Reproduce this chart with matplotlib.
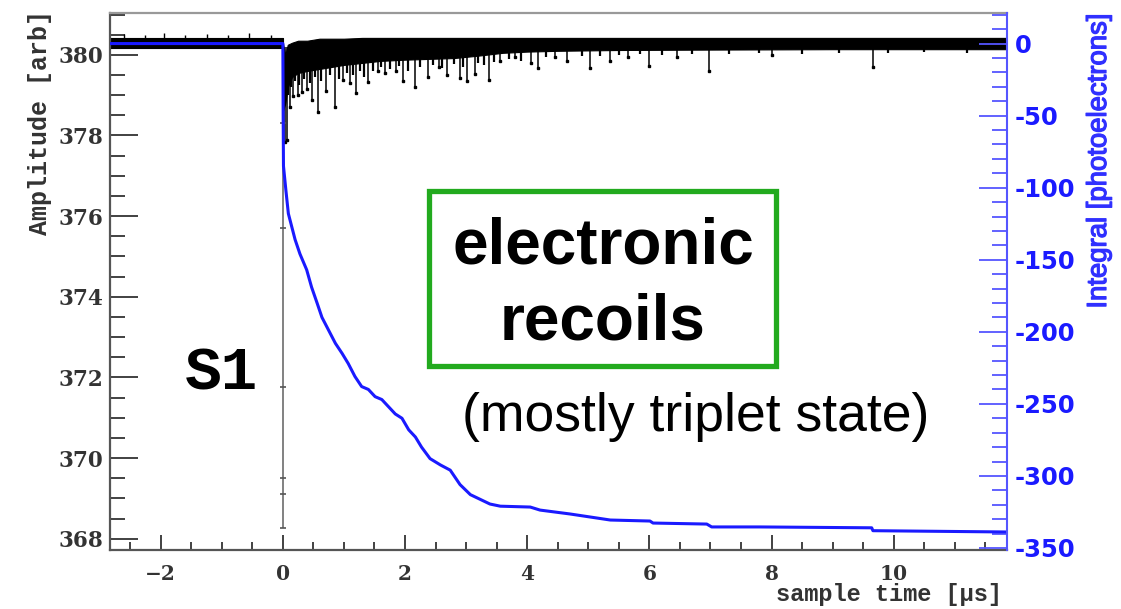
import numpy as np
import matplotlib
matplotlib.use("Agg")
import matplotlib.pyplot as plt
import matplotlib.patheffects as pe
from matplotlib.patches import Rectangle
from matplotlib.ticker import MultipleLocator

# ---------------- data ----------------
# black waveform (left axis, Amplitude [arb]) : noise band envelope
pre_band_t = [-2.83, 0.0]
pre_band_hi = [380.42, 380.42]
pre_band_lo = [380.17, 380.17]
pre_spike_t = [-2.6, -2.25, -1.95, -1.6, -1.25, -0.9, -0.55, -0.2]
pre_spike_v = [380.52, 380.5, 380.53, 380.5, 380.52, 380.5, 380.53, 380.5]

band_t = [0.0, 0.04, 0.08, 0.15, 0.25, 0.4, 0.6, 0.8, 1.0, 1.3, 1.6, 2.0,
          2.4, 2.8, 3.2, 3.6, 4.0, 4.5, 5.5, 7.0, 9.0, 11.85]
band_hi = [380.3, 380.0, 380.25, 380.3, 380.35, 380.35, 380.4, 380.4, 380.4,
           380.42, 380.42, 380.42, 380.42, 380.42, 380.42, 380.42, 380.42,
           380.42, 380.42, 380.42, 380.42, 380.42]
band_lo = [378.6, 378.8, 379.2, 379.45, 379.55, 379.6, 379.65, 379.7, 379.75,
           379.8, 379.85, 379.88, 379.9, 379.92, 379.98, 380.05, 380.08,
           380.1, 380.12, 380.13, 380.14, 380.14]

# deep downward single-photoelectron spikes (time, tip value)
spike_t = [0.03, 0.07, 0.12, 0.17, 0.24, 0.31, 0.40, 0.48, 0.58, 0.70, 0.85,
           0.99, 1.10, 1.20, 1.40, 1.55, 1.67, 1.85, 1.97, 2.17, 2.37, 2.55,
           2.68, 2.90, 3.01, 3.14, 3.37, 3.56, 3.80, 4.07, 4.18, 4.45, 4.65,
           5.02, 5.36, 5.65, 6.00, 6.45, 6.97, 8.00, 9.66]
spike_v = [377.85, 377.9, 378.7, 378.97, 379.0, 379.09, 379.15, 378.88,
           378.59, 379.1, 378.7, 379.38, 379.3, 379.05, 379.32, 379.6, 379.55,
           379.6, 379.34, 379.19, 379.46, 379.7, 379.5, 379.42, 379.34, 379.52,
           379.38, 379.85, 379.95, 379.8, 379.68, 379.95, 379.85, 379.68,
           379.85, 379.95, 379.73, 379.95, 379.59, 380.0, 379.71]

# shallower spikes filling the noisy region
small_t = [0.09, 0.14, 0.20, 0.27, 0.35, 0.44, 0.53, 0.63, 0.77, 0.92, 1.05,
           1.15, 1.27, 1.33, 1.47, 1.60, 1.75, 1.90, 2.05, 2.25, 2.45, 2.60,
           2.80, 2.95, 3.20, 3.30, 3.45, 3.70, 3.90, 4.30, 4.90, 5.20, 5.50,
           5.85, 6.20, 6.70, 7.30, 7.80, 8.50, 9.10, 9.90, 10.50, 11.20]
small_v = [379.0, 379.2, 379.35, 379.25, 379.4, 379.3, 379.45, 379.35, 379.5,
           379.4, 379.55, 379.5, 379.6, 379.45, 379.6, 379.7, 379.65, 379.72,
           379.6, 379.7, 379.75, 379.68, 379.78, 379.7, 379.8, 379.74, 379.82,
           379.9, 379.85, 379.95, 379.98, 379.96, 380.0, 380.02, 380.0, 380.03,
           380.02, 380.05, 380.03, 380.05, 380.04, 380.06, 380.05]

# S1 prompt pulse at t = 0
s1_t = 0.0
s1_top = 380.3
s1_min = 368.26
s1_points = [378.3, 375.7, 371.77, 369.5, 369.1, 368.26]

# blue integral (right axis, photoelectrons)
integ_t = [-2.83, 0.0, 0.005, 0.01, 0.05, 0.09, 0.2, 0.28, 0.39, 0.47, 0.56,
           0.64, 0.75, 0.86, 0.97, 1.07, 1.18, 1.29, 1.40, 1.51, 1.62, 1.73,
           1.84, 1.95, 2.06, 2.17, 2.27, 2.41, 2.58, 2.74, 2.9, 3.07, 3.39,
           3.56, 4.05, 4.21, 4.70, 5.03, 5.36, 6.01, 6.06, 6.94, 7.02, 7.81,
           9.64, 9.66, 11.85]
integ_v = [0, 0, -50, -85, -102, -118, -136, -146, -157, -169, -180, -190,
           -199, -208, -215, -222, -231, -238, -240, -245, -247, -252, -257,
           -260, -268, -273, -280, -288, -292.4, -296, -306, -313, -319.5,
           -321, -321.6, -323.7, -326.4, -328.5, -330.6, -331.3, -332.7,
           -333.4, -335.4, -335.4, -336, -338, -338.9]

# ticks / labels
x_ticks = [-2, 0, 2, 4, 6, 8, 10]
x_tick_labels = ["\u22122", "0", "2", "4", "6", "8", "10"]
left_ticks = [368, 370, 372, 374, 376, 378, 380]
left_tick_labels = ["368", "370", "372", "374", "376", "378", "380"]
right_ticks = [-350, -300, -250, -200, -150, -100, -50, 0]
right_tick_labels = ["-350", "-300", "-250", "-200", "-150", "-100", "-50", "0"]

# ---------------- figure ----------------
W, H = 1121, 609
fig = plt.figure(figsize=(W / 100, H / 100), dpi=100)


def fx(px):
    return px / W


def fy(py):
    return 1 - py / H


ax_l, ax_r, ax_t, ax_b = 110, 1006.7, 13.3, 550
ax = fig.add_axes([fx(ax_l), fy(ax_b), fx(ax_r - ax_l), (ax_b - ax_t) / H])
ax2 = ax.twinx()

# black waveform
ax.fill_between(pre_band_t, pre_band_lo, pre_band_hi, color="black", lw=0.8)
ax.vlines(pre_spike_t, 380.3, pre_spike_v, color="black", lw=1.0)
ax.fill_between(band_t, band_lo, band_hi, color="black", lw=0.8)
ax.vlines(small_t, small_v, 380.2, color="black", lw=1.6)
ax.vlines(spike_t, spike_v, 380.2, color="black", lw=1.1)
ax.plot(spike_t, spike_v, ls="none", marker="s", ms=2.0, color="black")
ax.vlines([s1_t], s1_min, s1_top, color="#777777", lw=1.3)
ax.plot([s1_t] * len(s1_points), s1_points, ls="none", marker="_", ms=5,
        mew=1.2, color="#555555")

ax.set_xlim(-2.83, 11.85)
ax.set_ylim(367.72, 381.03)

# blue integral
ax2.plot(integ_t, integ_v, color="#1a1aff", lw=2.2)
ax2.set_ylim(-351.4, 21.0)

# axes styling
for s in ["left", "bottom"]:
    ax.spines[s].set_color("#555555")
    ax.spines[s].set_linewidth(1.6)
ax.spines["top"].set_color("#999999")
ax.spines["top"].set_linewidth(1.6)
ax.spines["right"].set_visible(False)
for s in ["left", "top", "bottom"]:
    ax2.spines[s].set_visible(False)
ax2.spines["right"].set_color("#5555ff")
ax2.spines["right"].set_linewidth(1.5)

ax.set_xticks(x_ticks, labels=x_tick_labels)
ax.xaxis.set_minor_locator(MultipleLocator(0.5))
ax.set_yticks(left_ticks, labels=left_tick_labels)
ax.yaxis.set_minor_locator(MultipleLocator(0.5))
ax.tick_params(axis="both", which="both", direction="in", color="#333333",
               width=1.3, labelcolor="#333333", top=False, right=False)
ax.tick_params(axis="y", which="major", length=20, pad=5)
ax.tick_params(axis="y", which="minor", length=11)
ax.tick_params(axis="x", which="major", length=11, pad=10)
ax.tick_params(axis="x", which="minor", length=6)
for lab in ax.get_yticklabels():
    lab.set_fontfamily("DejaVu Serif")
    lab.set_fontweight("bold")
    lab.set_fontsize(15.5)
for lab in ax.get_xticklabels():
    lab.set_fontfamily("DejaVu Serif")
    lab.set_fontweight("bold")
    lab.set_fontsize(14.5)

ax2.set_yticks(right_ticks, labels=right_tick_labels)
ax2.yaxis.set_minor_locator(MultipleLocator(10))
ax2.tick_params(axis="y", which="both", direction="in", color="#5555ff",
                width=1.3, labelcolor="#1a1aff", pad=6)
ax2.tick_params(axis="y", which="major", length=20)
ax2.tick_params(axis="y", which="minor", length=11)
for lab in ax2.get_yticklabels():
    lab.set_fontfamily("DejaVu Sans")
    lab.set_fontweight("bold")
    lab.set_fontsize(17.5)

# axis titles (ROOT-style, aligned to the ends)
fig.text(fx(40), fy(10), "Amplitude [arb]", rotation=90, ha="center",
         va="top", family="Liberation Mono", weight="bold", fontsize=18,
         color="#333333")
fig.text(fx(1099), fy(14), "Integral [photoelectrons]", rotation=90,
         ha="center", va="top", family="Liberation Sans", fontsize=19.8,
         color="#3030ff",
         path_effects=[pe.withStroke(linewidth=0.9, foreground="#3030ff")])
fig.text(fx(1002), fy(595), "sample time [\u00b5s]", ha="right", va="center",
         family="Liberation Mono", weight="bold", fontsize=17,
         color="#333333")

# annotations
fig.text(fx(221), fy(374), "S1", ha="center", va="center",
         family="Liberation Mono", weight="bold", fontsize=44, color="black")
fig.patches.append(Rectangle((fx(428.5), fy(365.5)), fx(775.5 - 428.5),
                             (365.5 - 190.5) / H, transform=fig.transFigure,
                             fill=False, ec="#22aa1e", lw=3.8))
fig.text(fx(603), fy(263), "electronic", ha="center", va="baseline",
         family="Liberation Sans", weight="bold", fontsize=46, color="black")
fig.text(fx(603), fy(340), "recoils", ha="center", va="baseline",
         family="Liberation Sans", weight="bold", fontsize=46, color="black")
fig.text(fx(696), fy(431), "(mostly triplet state)", ha="center",
         va="baseline", family="Liberation Sans", fontsize=38.5,
         color="black")

fig.savefig("out.png", dpi=100)
